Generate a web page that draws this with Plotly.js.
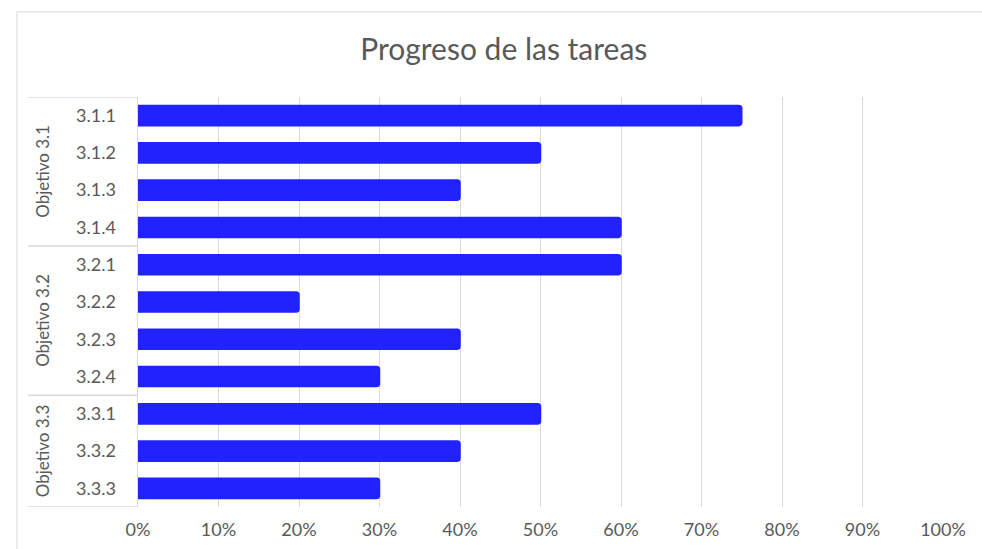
<!DOCTYPE html>
<html>
<head>
<meta charset="utf-8">
<script src="https://cdn.plot.ly/plotly-3.0.1.min.js"></script>
<style>html,body{margin:0;padding:0;background:#fff;}#chart{width:982px;height:549px;}</style>
</head>
<body>
<div id="chart"></div>
<script>
const tasks = ["3.1.1","3.1.2","3.1.3","3.1.4","3.2.1","3.2.2","3.2.3","3.2.4","3.3.1","3.3.2","3.3.3"];
const progress = [0.75,0.50,0.40,0.60,0.60,0.20,0.40,0.30,0.50,0.40,0.30];
const groups = ["Objetivo 3.1","Objetivo 3.2","Objetivo 3.3"];
const groupSizes = [4,4,3];
const xTickVals = [0,0.1,0.2,0.3,0.4,0.5,0.6,0.7,0.8,0.9,1.0];
const xTickText = ["0%","10%","20%","30%","40%","50%","60%","70%","80%","90%","100%"];

const FONT = "Lato, 'Open Sans', sans-serif";
const GRAY = "#d9d9d9";
const TXT = "#595959";

const shapes = [];
const annotations = [];
// frame of the chart area
shapes.push({type:'line', xref:'paper', yref:'paper', x0:-0.1503, x1:1.06, y0:1.2078, y1:1.2078, line:{color:GRAY,width:1}});
shapes.push({type:'line', xref:'paper', yref:'paper', x0:-0.1503, x1:-0.1503, y0:1.2078, y1:-0.11, line:{color:GRAY,width:1}});

let start = 0;
const boxLeft = -0.1366;
shapes.push({type:'line', xref:'paper', yref:'y', x0:boxLeft, x1:0, y0:-0.5, y1:-0.5, line:{color:GRAY,width:1.5}});
groups.forEach((g,i)=>{
  const end = start + groupSizes[i];
  shapes.push({type:'line', xref:'paper', yref:'y', x0:boxLeft, x1:0, y0:end-0.5, y1:end-0.5, line:{color:GRAY,width:1.5}});
  annotations.push({xref:'paper', yref:'y', x:-0.119, y:(start+end-1)/2, text:g, showarrow:false, textangle:-90,
    font:{family:FONT,size:17,color:TXT}, xanchor:'center', yanchor:'middle'});
  start = end;
});

const trace = {
  type:'bar', orientation:'h',
  y: tasks.map((t,i)=>i), x: progress,
  width:0.54,
  marker:{color:'#2222ff', cornerradius:3, line:{width:1.5, color:'#2222ff'}},
  hoverinfo:'skip'
};

const layout = {
  width:982, height:549,
  margin:{l:138, r:39, t:97, b:42},
  paper_bgcolor:'#fff', plot_bgcolor:'#fff',
  title:{text:'Progreso de las tareas', font:{family:FONT,size:30,color:TXT}, x:0.513, xanchor:'center', y:0.909, yanchor:'middle'},
  showlegend:false,
  bargap:0.46,
  xaxis:{range:[0,1.0], tickvals:xTickVals, ticktext:xTickText, showgrid:true, gridcolor:GRAY, gridwidth:1,
    zeroline:false, showline:false, ticks:'', tickfont:{family:FONT,size:18,color:TXT}, ticklabelstandoff:10, fixedrange:true},
  yaxis:{range:[10.5,-0.5], tickvals:tasks.map((t,i)=>i), ticktext:tasks, showgrid:false, zeroline:false,
    showline:true, linecolor:GRAY, linewidth:1.5, ticks:'', tickfont:{family:FONT,size:18,color:TXT}, ticklabelstandoff:17, fixedrange:true},
  shapes:shapes, annotations:annotations
};

Plotly.newPlot('chart',[trace],layout,{displayModeBar:false, staticPlot:true});
</script>
</body>
</html>
